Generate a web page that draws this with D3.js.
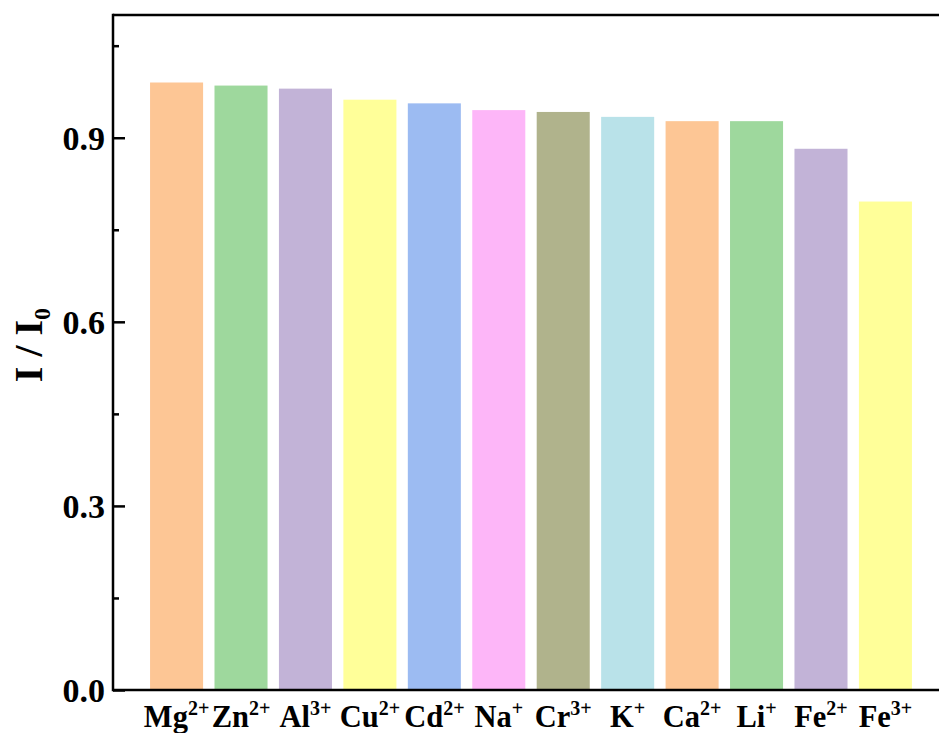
<!DOCTYPE html>
<html>
<head>
<meta charset="utf-8">
<script src="https://cdn.jsdelivr.net/npm/d3@7"></script>
<style>
  html, body { margin: 0; padding: 0; background: #fff; }
  svg { display: block; }
  text { font-family: "Liberation Serif", "Times New Roman", serif; font-weight: bold; fill: #000; }
</style>
</head>
<body>
<svg id="chart" width="939" height="733"></svg>
<script>
// Metal ions tested and their relative fluorescence intensity I / I0
const ions    = ["Mg", "Zn", "Al", "Cu", "Cd", "Na", "Cr", "K", "Ca", "Li", "Fe", "Fe"];
const charges = ["2+", "2+", "3+", "2+", "2+", "+", "3+", "+", "2+", "+", "2+", "3+"];
const ratios  = [0.990, 0.985, 0.980, 0.962, 0.956, 0.945, 0.942, 0.934, 0.927, 0.927, 0.882, 0.796];
const colors  = ["#FDC695", "#9ED89D", "#C2B3D7", "#FFFF99", "#9CBBF2", "#FDB6F8",
                 "#B0B38C", "#B9E2E9", "#FDC695", "#9ED89D", "#C2B3D7", "#FFFF99"];
const majorTicks = [0.0, 0.3, 0.6, 0.9];
const minorTicks = [0.15, 0.45, 0.75, 1.05];

const svg = d3.select("#chart");
const plotLeft = 113, plotTop = 15, plotBottom = 690, plotRight = 949;

const x = d3.scaleBand()
  .domain(d3.range(ions.length))
  .range([plotLeft, plotRight])
  .paddingInner(0.177)
  .paddingOuter(0.575);

const y = d3.scaleLinear().domain([0, 1.1]).range([plotBottom, plotTop]);

// bars
svg.append("g")
  .selectAll("rect")
  .data(ratios)
  .join("rect")
  .attr("x", (d, i) => x(i))
  .attr("y", d => y(d))
  .attr("width", x.bandwidth())
  .attr("height", d => y(0) - y(d))
  .attr("fill", (d, i) => colors[i]);

// minor ticks on the y axis (inward)
svg.append("g")
  .attr("transform", `translate(${plotLeft},0)`)
  .call(d3.axisLeft(y).tickValues(minorTicks).tickSizeInner(-6).tickSizeOuter(0).tickFormat(""))
  .call(g => g.select(".domain").remove())
  .call(g => g.selectAll("line").attr("stroke", "#000").attr("stroke-width", 2.5));

// major ticks and labels
const yAxis = svg.append("g")
  .attr("transform", `translate(${plotLeft},0)`)
  .call(d3.axisLeft(y).tickValues(majorTicks).tickSizeInner(-12).tickSizeOuter(0)
    .tickPadding(8).tickFormat(d3.format(".1f")));
yAxis.select(".domain").remove();
yAxis.selectAll("line").attr("stroke", "#000").attr("stroke-width", 2.5);
yAxis.selectAll("text")
  .attr("font-size", 34)
  .attr("font-family", "'Liberation Serif', 'Times New Roman', serif")
  .attr("font-weight", "bold")
  .attr("fill", "#000")
  .attr("dy", "0.34em");

// frame: left axis, bottom axis, top border
const frame = svg.append("g").attr("stroke", "#000").attr("stroke-width", 2.5).attr("fill", "none");
frame.append("line").attr("x1", plotLeft).attr("x2", plotLeft).attr("y1", plotTop - 1.25).attr("y2", plotBottom + 1.25);
frame.append("line").attr("x1", plotLeft).attr("x2", 939).attr("y1", plotBottom).attr("y2", plotBottom);
frame.append("line").attr("x1", plotLeft).attr("x2", 939).attr("y1", plotTop).attr("y2", plotTop);

// category labels with ionic charge as superscript
const labels = svg.append("g")
  .selectAll("text")
  .data(ions)
  .join("text")
  .attr("x", (d, i) => x(i) + x.bandwidth() / 2)
  .attr("y", 727)
  .attr("text-anchor", "middle")
  .attr("font-size", 30.5);
labels.append("tspan").text(d => d);
labels.append("tspan")
  .attr("dy", -12)
  .attr("font-size", 20)
  .text((d, i) => charges[i]);

// y axis title
const yTitle = svg.append("text")
  .attr("transform", "translate(42,345) rotate(-90)")
  .attr("text-anchor", "middle")
  .attr("font-size", 40);
yTitle.append("tspan").text("I / I");
yTitle.append("tspan").attr("dy", 8).attr("font-size", 24).text("0");
</script>
</body>
</html>
